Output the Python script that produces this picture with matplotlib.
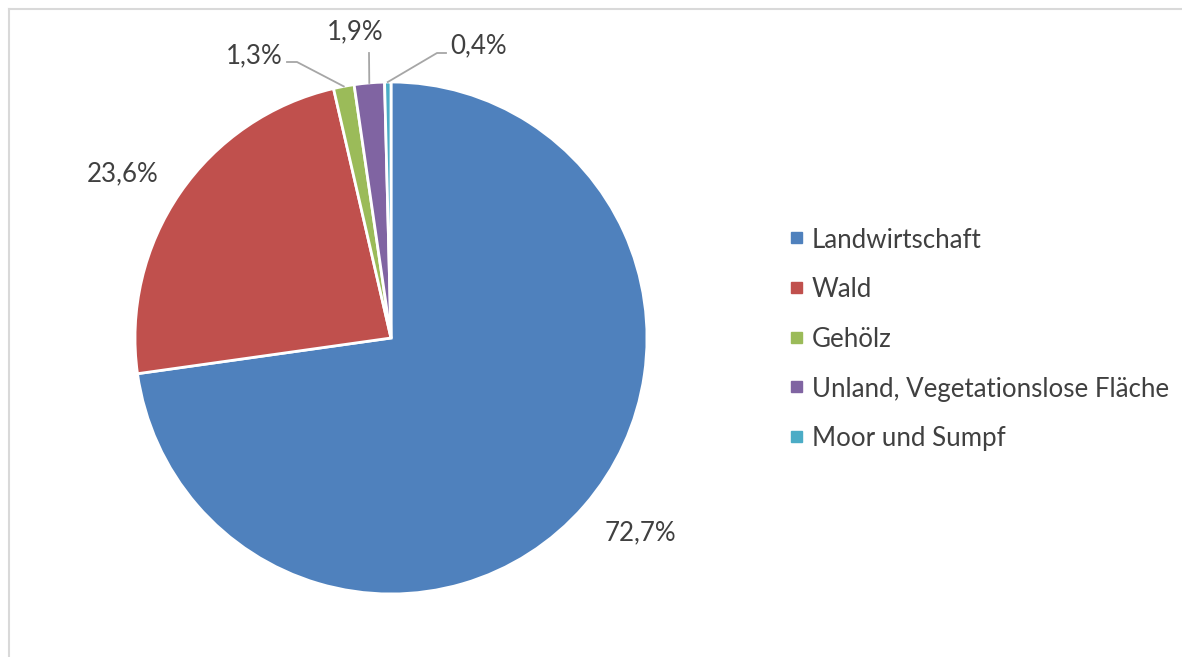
import numpy as np
import matplotlib.pyplot as plt

plt.rcParams['font.family'] = ['Lato', 'DejaVu Sans']

categories = ['Landwirtschaft', 'Wald', 'Gehölz',
              'Unland, Vegetationslose Fläche', 'Moor und Sumpf']
shares = [72.7, 23.6, 1.3, 1.9, 0.4]
colors = ['#4F81BD', '#C0504D', '#9BBB59', '#8064A2', '#4BACC6']

text_color = '#404040'
fs = 18.6

W, H = 1182, 657
fig = plt.figure(figsize=(W / 100, H / 100), dpi=100)

# pie axes: 512 px square, centre at (391, 338) in pixels from top-left
cx, cy, r = 391, 338, 256
ax = fig.add_axes([(cx - r) / W, (H - cy - r) / H, 2 * r / W, 2 * r / H])
wedges, _ = ax.pie(shares, colors=colors, startangle=90, counterclock=False,
                   radius=1, wedgeprops=dict(edgecolor='white', linewidth=2))
ax.set_xlim(-1, 1)
ax.set_ylim(-1, 1)
ax.set_aspect('equal')
ax.axis('off')


def px(x, y):
    return (x - cx) / r, (cy - y) / r


# label positions (pixel coords) and optional leader-line elbows
label_pos = [(640, 533), (123, 174), (254, 56), (355, 32), (479, 46)]
elbows = [None, None, [(297, 62), (287, 62)], [(369, 53)], [(437, 53), (446, 53)]]

for w, val, (lx, ly), elbow in zip(wedges, shares, label_pos, elbows):
    txt = f'{val:.1f}%'.replace('.', ',')
    x, y = px(lx, ly)
    ax.text(x, y, txt, ha='center', va='center', fontsize=fs,
            color=text_color, clip_on=False)
    if elbow:
        mid = np.deg2rad((w.theta1 + w.theta2) / 2)
        pts = [(np.cos(mid) * 1.0, np.sin(mid) * 1.0)] + [px(*p) for p in elbow]
        xs, ys = zip(*pts)
        ax.plot(xs, ys, color='#A6A6A6', lw=1.3, clip_on=False)

# legend, drawn row by row
row_y = [238, 287.5, 337, 386.5, 436]
for c, name, y in zip(colors, categories, row_y):
    fig.add_artist(plt.Rectangle((791 / W, 1 - (y + 5.5) / H), 11 / W, 11 / H,
                                 color=c, transform=fig.transFigure))
    fig.text(812 / W, 1 - y / H, name, ha='left', va='center_baseline',
             fontsize=fs, color=text_color)

# chart area border (left and top edges visible)
fig.add_artist(plt.Line2D([8.5 / W, 8.5 / W], [0, 1 - 9 / H],
                          color='#D9D9D9', lw=1.5))
fig.add_artist(plt.Line2D([8.5 / W, 1], [1 - 9 / H, 1 - 9 / H],
                          color='#D9D9D9', lw=1.5))

fig.savefig('out.png', dpi=100, facecolor='white')
